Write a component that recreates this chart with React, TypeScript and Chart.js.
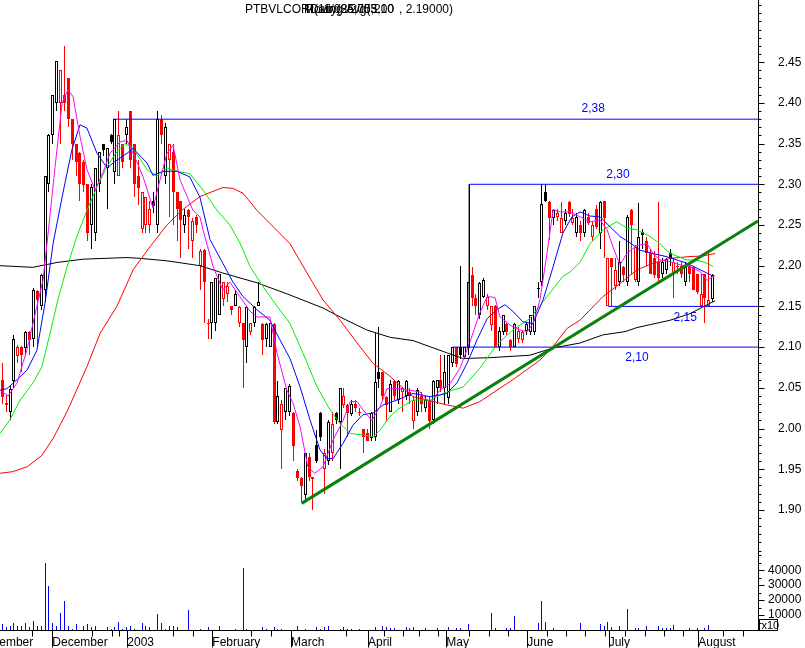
import React, { useEffect, useRef } from 'react';
import { Chart, registerables } from 'chart.js';

Chart.register(...registerables);

const FONT = '"Liberation Sans", Arial, sans-serif';

// ---- daily candles (trading-day index 0..183) ----
const OPEN = [
  2.059, 2.031, 2.020, 2.058, 2.089, 2.100, 2.099, 2.118, 2.110, 2.169,
  2.150, 2.170, 2.300, 2.360, 2.400, 2.400, 2.410, 2.430, 2.380, 2.350,
  2.338, 2.328, 2.300, 2.250, 2.240, 2.300, 2.349, 2.320, 2.360, 2.315,
  2.310, 2.350, 2.360, 2.390, 2.350, 2.310, 2.245, 2.250, 2.250, 2.280,
  2.250, 2.380, 2.310, 2.330, 2.340, 2.290, 2.280, 2.250, 2.268, 2.230,
  2.260, 2.200, 2.219, 2.130, 2.130, 2.130, 2.140, 2.159, 2.165, 2.150,
  2.150, 2.130, 2.129, 2.100, 2.118, 2.130, 2.150, 2.128, 2.110, 2.100,
  2.128, 2.008, 1.998, 2.020, 2.020, 2.019, 1.948, 1.939, 1.918, 1.965,
  1.940, 1.980, 2.019, 1.950, 1.960, 1.970, 2.019, 2.008, 2.029, 2.029,
  2.018, 2.030, 2.020, 2.000, 1.995, 1.988, 1.990, 2.070, 2.069, 2.039,
  2.020, 2.058, 2.035, 2.045, 2.040, 2.045, 2.009, 2.020, 2.040, 2.025,
  2.035, 2.010, 2.050, 2.059, 2.050, 2.037, 2.080, 2.100, 2.100, 2.088,
  2.099, 2.189, 2.160, 2.140, 2.162, 2.150, 2.127, 2.150, 2.100, 2.119,
  2.128, 2.109, 2.100, 2.110, 2.109, 2.120, 2.118, 2.118, 2.171, 2.180,
  2.290, 2.278, 2.258, 2.260, 2.240, 2.255, 2.278, 2.252, 2.240, 2.250,
  2.240, 2.260, 2.235, 2.270, 2.240, 2.279, 2.150, 2.209, 2.175, 2.180,
  2.198, 2.180, 2.268, 2.183, 2.180, 2.242, 2.230, 2.215, 2.210, 2.205,
  2.190, 2.195, 2.215, 2.190, 2.200, 2.200, 2.180, 2.200, 2.199, 2.190,
  2.150, 2.190, 2.150, 2.159,
];
const HIGH = [
  2.080, 2.041, 2.052, 2.115, 2.102, 2.101, 2.120, 2.120, 2.172, 2.170,
  2.190, 2.310, 2.362, 2.410, 2.452, 2.440, 2.470, 2.430, 2.380, 2.350,
  2.340, 2.330, 2.300, 2.300, 2.320, 2.340, 2.350, 2.345, 2.362, 2.380,
  2.390, 2.350, 2.380, 2.390, 2.350, 2.330, 2.290, 2.285, 2.280, 2.290,
  2.390, 2.385, 2.375, 2.350, 2.350, 2.290, 2.280, 2.270, 2.270, 2.258,
  2.262, 2.220, 2.220, 2.135, 2.180, 2.185, 2.190, 2.180, 2.180, 2.150,
  2.170, 2.150, 2.130, 2.150, 2.130, 2.150, 2.180, 2.130, 2.130, 2.130,
  2.130, 2.058, 2.035, 2.050, 2.055, 2.020, 1.950, 1.940, 1.970, 1.970,
  1.940, 1.998, 2.020, 1.975, 2.010, 2.020, 2.020, 2.050, 2.050, 2.030,
  2.035, 2.035, 2.025, 2.000, 2.000, 2.020, 2.117, 2.125, 2.070, 2.040,
  2.060, 2.060, 2.060, 2.050, 2.060, 2.050, 2.040, 2.050, 2.045, 2.040,
  2.040, 2.060, 2.060, 2.090, 2.090, 2.090, 2.100, 2.100, 2.200, 2.100,
  2.180, 2.199, 2.165, 2.180, 2.185, 2.165, 2.150, 2.152, 2.125, 2.140,
  2.130, 2.110, 2.130, 2.125, 2.120, 2.130, 2.140, 2.150, 2.180, 2.300,
  2.300, 2.280, 2.270, 2.270, 2.278, 2.270, 2.280, 2.270, 2.265, 2.255,
  2.270, 2.265, 2.255, 2.275, 2.280, 2.280, 2.210, 2.210, 2.210, 2.230,
  2.200, 2.262, 2.270, 2.225, 2.277, 2.245, 2.235, 2.220, 2.218, 2.278,
  2.210, 2.210, 2.220, 2.210, 2.205, 2.205, 2.205, 2.205, 2.200, 2.190,
  2.190, 2.190, 2.217, 2.190,
];
const LOW = [
  2.030, 2.020, 2.011, 2.050, 2.080, 2.070, 2.090, 2.090, 2.100, 2.100,
  2.145, 2.155, 2.290, 2.350, 2.390, 2.350, 2.390, 2.370, 2.330, 2.310,
  2.280, 2.290, 2.230, 2.220, 2.230, 2.290, 2.335, 2.270, 2.350, 2.300,
  2.310, 2.320, 2.350, 2.320, 2.285, 2.275, 2.240, 2.240, 2.240, 2.265,
  2.240, 2.350, 2.300, 2.260, 2.250, 2.230, 2.210, 2.240, 2.220, 2.210,
  2.240, 2.170, 2.130, 2.110, 2.110, 2.120, 2.140, 2.150, 2.155, 2.140,
  2.150, 2.125, 2.050, 2.080, 2.115, 2.125, 2.150, 2.090, 2.100, 2.100,
  2.005, 2.005, 1.950, 2.010, 2.015, 1.960, 1.935, 1.908, 1.908, 1.935,
  1.900, 1.958, 1.985, 1.920, 1.955, 1.960, 2.005, 1.950, 2.025, 1.990,
  2.015, 2.020, 2.015, 1.970, 1.985, 1.985, 1.985, 2.050, 2.035, 2.009,
  2.020, 2.035, 2.030, 2.020, 2.035, 2.030, 2.000, 2.015, 2.020, 2.020,
  2.000, 2.005, 2.030, 2.045, 2.030, 2.030, 2.075, 2.075, 2.085, 2.085,
  2.090, 2.150, 2.140, 2.135, 2.160, 2.145, 2.120, 2.100, 2.095, 2.115,
  2.115, 2.095, 2.100, 2.105, 2.105, 2.115, 2.115, 2.115, 2.160, 2.175,
  2.278, 2.232, 2.250, 2.255, 2.240, 2.250, 2.260, 2.250, 2.235, 2.230,
  2.235, 2.250, 2.230, 2.245, 2.220, 2.210, 2.150, 2.150, 2.170, 2.175,
  2.180, 2.175, 2.190, 2.180, 2.175, 2.220, 2.200, 2.190, 2.185, 2.180,
  2.185, 2.190, 2.200, 2.160, 2.190, 2.185, 2.175, 2.180, 2.170, 2.165,
  2.150, 2.129, 2.150, 2.155,
];
const CLOSE = [
  2.039, 2.029, 2.048, 2.110, 2.100, 2.090, 2.118, 2.109, 2.170, 2.158,
  2.189, 2.310, 2.361, 2.410, 2.451, 2.440, 2.400, 2.380, 2.350, 2.328,
  2.300, 2.299, 2.240, 2.297, 2.320, 2.340, 2.342, 2.344, 2.352, 2.380,
  2.360, 2.328, 2.370, 2.330, 2.300, 2.295, 2.290, 2.285, 2.270, 2.273,
  2.380, 2.360, 2.370, 2.350, 2.290, 2.270, 2.256, 2.262, 2.260, 2.255,
  2.250, 2.218, 2.180, 2.128, 2.180, 2.185, 2.190, 2.180, 2.175, 2.145,
  2.165, 2.149, 2.109, 2.149, 2.129, 2.149, 2.155, 2.109, 2.128, 2.130,
  2.008, 2.040, 2.030, 2.050, 2.052, 1.979, 1.939, 1.929, 1.970, 1.940,
  1.938, 1.960, 1.990, 1.970, 2.008, 2.005, 2.010, 2.050, 2.040, 2.019,
  2.030, 2.025, 2.019, 1.990, 1.985, 2.019, 2.057, 2.061, 2.040, 2.029,
  2.055, 2.040, 2.058, 2.050, 2.058, 2.040, 2.035, 2.047, 2.030, 2.035,
  2.009, 2.058, 2.060, 2.050, 2.070, 2.090, 2.100, 2.079, 2.090, 2.100,
  2.180, 2.160, 2.150, 2.179, 2.182, 2.162, 2.150, 2.100, 2.120, 2.140,
  2.119, 2.100, 2.128, 2.120, 2.118, 2.128, 2.140, 2.150, 2.172, 2.276,
  2.280, 2.258, 2.268, 2.265, 2.258, 2.265, 2.263, 2.258, 2.260, 2.240,
  2.268, 2.252, 2.250, 2.248, 2.278, 2.258, 2.209, 2.199, 2.195, 2.205,
  2.189, 2.260, 2.250, 2.223, 2.235, 2.238, 2.215, 2.190, 2.188, 2.185,
  2.205, 2.208, 2.210, 2.205, 2.198, 2.190, 2.199, 2.190, 2.170, 2.168,
  2.165, 2.160, 2.158, 2.189,
];
const VOLUME = [
  3700, 1900, 3000, 5000, 3000, 2400, 4400, 1800, 5800, 3000,
  3000, 44500, 29100, 5000, 3000, 11200, 19700, 2400, 1000, 3700,
  0, 3000, 3700, 1800, 3000, 0, 0, 1800, 1000, 1800,
  5600, 1000, 1800, 3000, 1000, 0, 4400, 3000, 1800, 0,
  10400, 4400, 1000, 2400, 2400, 1800, 0, 0, 13700, 0,
  0, 1000, 0, 1800, 0, 0, 3000, 0, 0, 0,
  1000, 0, 41800, 1000, 0, 0, 0, 1800, 1000, 0,
  1800, 1000, 1000, 0, 0, 0, 2400, 0, 1000, 0,
  0, 1800, 1000, 1800, 2400, 0, 0, 1000, 1800, 1000,
  1000, 0, 1000, 0, 0, 0, 1800, 0, 2400, 1800,
  1100, 1100, 0, 0, 1800, 1200, 1800, 0, 0, 1200,
  0, 0, 1200, 0, 0, 1800, 0, 1200, 1200, 0,
  3900, 0, 0, 0, 0, 0, 11200, 1200, 0, 0,
  1200, 1200, 9200, 0, 0, 0, 0, 0, 4500, 19300,
  5200, 0, 1200, 0, 0, 0, 0, 0, 0, 4500,
  0, 0, 0, 0, 3900, 2500, 5200, 1800, 0, 2500,
  0, 13900, 0, 1200, 1200, 0, 2500, 0, 0, 2500,
  1200, 1200, 1200, 3200, 0, 0, 0, 1200, 0, 1200,
  0, 1200, 3200, 0,
];

// ---- moving averages (day index, value) ----
const MA_MAGENTA_X = [-0.6, 1.5, 3.8, 6.4, 8.9, 10.5, 11.8, 13.6, 15.4, 16.9, 18.2, 20.0, 21.8, 23.9, 25.9, 27.7, 30.3, 32.1, 33.7, 36.2, 38.8, 40.6, 42.4, 44.0, 45.8, 47.6, 49.1, 50.9, 51.7, 54.3, 56.8, 58.6, 61.2, 63.8, 65.6, 68.9, 70.8, 73.3, 74.9, 76.7, 78.7, 80.5, 82.6, 85.2, 87.8, 89.6, 91.4, 92.9, 95.2, 97.3, 99.1, 102.4, 105.0, 107.6, 110.2, 112.7, 115.3, 117.9, 120.5, 123.0, 124.9, 126.9, 128.2, 130.8, 133.3, 135.2, 136.7, 138.5, 140.3, 141.9, 143.7, 146.2, 148.8, 151.4, 154.0, 155.8, 157.3, 159.1, 160.9, 163.5, 166.1, 167.6, 169.4, 172.0, 174.6, 177.1, 179.7, 181.5, 183.6];
const MA_MAGENTA_Y = [2.047, 2.040, 2.056, 2.098, 2.150, 2.183, 2.240, 2.322, 2.400, 2.416, 2.408, 2.359, 2.318, 2.293, 2.314, 2.338, 2.352, 2.354, 2.338, 2.310, 2.271, 2.305, 2.338, 2.348, 2.305, 2.285, 2.268, 2.260, 2.244, 2.199, 2.170, 2.180, 2.162, 2.144, 2.137, 2.137, 2.092, 2.047, 2.031, 2.002, 1.953, 1.945, 1.953, 1.986, 2.010, 2.033, 2.033, 2.023, 2.010, 2.027, 2.049, 2.049, 2.047, 2.045, 2.031, 2.047, 2.055, 2.074, 2.107, 2.142, 2.162, 2.161, 2.137, 2.127, 2.121, 2.119, 2.129, 2.158, 2.215, 2.269, 2.266, 2.266, 2.260, 2.254, 2.256, 2.244, 2.223, 2.201, 2.215, 2.225, 2.227, 2.215, 2.207, 2.205, 2.201, 2.199, 2.193, 2.182, 2.188];

const MA_BLUE_X = [-0.6, 1.2, 3.8, 6.4, 8.9, 11.0, 13.1, 15.6, 17.9, 20.0, 21.8, 24.4, 27.0, 29.0, 32.1, 33.7, 37.3, 38.8, 41.4, 45.0, 48.3, 50.9, 53.5, 56.8, 59.4, 62.0, 65.6, 68.9, 71.5, 74.1, 76.7, 79.3, 81.8, 83.6, 85.2, 87.8, 90.3, 92.9, 95.5, 98.1, 101.7, 105.8, 110.2, 114.5, 117.1, 119.7, 122.3, 124.9, 127.4, 129.5, 131.5, 134.1, 136.7, 139.3, 141.9, 144.4, 146.7, 148.8, 151.4, 154.0, 156.5, 159.1, 161.7, 164.3, 167.6, 171.2, 173.8, 176.4, 178.9, 181.5, 183.1];
const MA_BLUE_Y = [2.047, 2.049, 2.060, 2.072, 2.096, 2.154, 2.228, 2.289, 2.342, 2.373, 2.369, 2.338, 2.320, 2.328, 2.338, 2.344, 2.326, 2.311, 2.316, 2.316, 2.309, 2.284, 2.232, 2.203, 2.180, 2.162, 2.146, 2.133, 2.109, 2.086, 2.051, 2.010, 1.974, 1.963, 1.963, 1.982, 2.004, 2.017, 2.019, 2.029, 2.035, 2.043, 2.039, 2.043, 2.056, 2.080, 2.109, 2.135, 2.146, 2.152, 2.144, 2.131, 2.129, 2.158, 2.199, 2.240, 2.260, 2.266, 2.261, 2.260, 2.248, 2.236, 2.228, 2.219, 2.215, 2.211, 2.207, 2.203, 2.197, 2.191, 2.187];

const MA_GREEN_X = [-0.6, 2.0, 4.6, 7.9, 10.2, 12.3, 14.3, 16.7, 19.2, 21.8, 24.4, 27.0, 29.5, 31.6, 33.7, 37.3, 39.8, 42.4, 45.0, 48.3, 51.7, 55.3, 58.6, 61.2, 63.8, 67.2, 70.8, 74.1, 77.5, 81.1, 84.4, 87.0, 89.6, 92.9, 95.5, 97.3, 99.9, 101.7, 105.8, 110.2, 114.5, 118.7, 123.0, 127.4, 131.5, 135.9, 140.3, 144.4, 146.2, 148.8, 151.4, 154.7, 158.3, 160.9, 163.5, 166.8, 169.4, 172.0, 176.4, 178.9, 181.5, 183.1];
const MA_GREEN_Y = [1.994, 2.011, 2.035, 2.056, 2.076, 2.117, 2.158, 2.199, 2.236, 2.268, 2.297, 2.322, 2.340, 2.350, 2.344, 2.318, 2.310, 2.320, 2.316, 2.313, 2.293, 2.268, 2.250, 2.228, 2.199, 2.174, 2.150, 2.129, 2.092, 2.051, 2.023, 2.006, 1.994, 1.992, 1.990, 1.998, 2.015, 2.023, 2.035, 2.035, 2.045, 2.051, 2.074, 2.103, 2.121, 2.135, 2.162, 2.187, 2.192, 2.204, 2.227, 2.244, 2.254, 2.246, 2.244, 2.236, 2.227, 2.215, 2.207, 2.207, 2.203, 2.199];

const MA_RED_X = [-0.6, 2.7, 6.4, 10.2, 13.1, 16.7, 21.8, 25.2, 29.5, 33.7, 38.0, 42.4, 46.5, 50.9, 56.8, 59.4, 62.0, 65.6, 74.1, 78.5, 82.6, 87.0, 91.4, 95.5, 99.9, 101.7, 105.8, 110.2, 114.5, 118.7, 123.0, 131.5, 138.5, 141.9, 145.5, 148.8, 154.7, 159.1, 163.5, 167.6, 172.0, 176.4, 180.5, 183.6];
const MA_RED_Y = [1.945, 1.947, 1.953, 1.967, 1.988, 2.021, 2.076, 2.117, 2.150, 2.195, 2.223, 2.250, 2.269, 2.285, 2.296, 2.295, 2.289, 2.268, 2.227, 2.191, 2.158, 2.133, 2.105, 2.080, 2.064, 2.056, 2.039, 2.034, 2.029, 2.025, 2.033, 2.060, 2.084, 2.101, 2.123, 2.133, 2.162, 2.178, 2.195, 2.203, 2.209, 2.211, 2.212, 2.215];

const MA_BLACK_X = [-0.6, 7.9, 14.1, 20.8, 32.1, 35.5, 42.4, 50.9, 56.8, 65.6, 74.1, 82.6, 87.0, 93.9, 99.9, 105.8, 114.5, 118.7, 125.6, 135.9, 141.9, 148.8, 154.7, 160.4, 163.5, 172.0, 177.1, 183.6];
const MA_BLACK_Y = [2.200, 2.198, 2.204, 2.208, 2.210, 2.209, 2.206, 2.200, 2.191, 2.179, 2.164, 2.148, 2.137, 2.121, 2.112, 2.108, 2.093, 2.086, 2.087, 2.090, 2.099, 2.105, 2.115, 2.119, 2.124, 2.133, 2.141, 2.157];

// ---- drawn annotations ----
const LEVELS = [2.38, 2.30, 2.15, 2.10];
const LEVEL_START = [28.6, 120.3, 156.1, 116.0];
const LEVEL_TEXT = ['2,38', '2,30', '2,15', '2,10'];
const LEVEL_TEXT_X = [152.2, 158.6, 175.9, 163.5];
const LEVEL_TEXT_ABOVE = [true, true, false, false];
const BOX_X = 120.3;
const BOX_TOP = 2.30;
const BOX_BOTTOM = 2.10;
const TREND_X = [77.1, 194.66];
const TREND_Y = [1.908, 2.255];

// ---- axes ----
const MONTH_TICKS = [-6.3, 12.87, 32.19, 54.09, 74.37, 94.2, 114.37, 135.23, 156.2, 179.29];
const MONTH_LABELS = ['November', 'December', '2003', 'February', 'March', 'April', 'May', 'June', 'July', 'August'];
const WEEK_TICKS = [7.72, 23.18, 28.17, 30.13, 43.89, 49.19, 64.06, 69.13, 88.45, 98.19, 103.13, 107.26, 112.23, 120.29, 125.29, 130.26, 140.23, 145.2, 150.17, 155.33, 160.48, 165.47, 170.45, 175.42, 185.72, 190.72];
const PRICE_LABEL_MIN = 1.90;
const PRICE_LABEL_MAX = 2.45;
const VOLUME_LABELS = [10000, 20000, 30000, 40000];

const X_MIN = -0.6;
const X_MAX = 194.66;
const P_MIN = 1.8446;
const P_MAX = 2.5264;
const V_MAX = 50170;

const pts = (xs: number[], ys: number[]) => xs.map((x, k) => ({ x, y: ys[k] }));

const resetPadding = (s: any) => {
  s.paddingLeft = 0;
  s.paddingRight = 0;
  s.paddingTop = 0;
  s.paddingBottom = 0;
};

// snap bar elements to whole device pixels so candles render crisp like the original
const snapBars = {
  id: 'snapBars',
  beforeDatasetsDraw(chart: any) {
    chart.getSortedVisibleDatasetMetas().forEach((meta: any) => {
      if (meta.type !== 'bar') return;
      meta.data.forEach((el: any) => {
        el.x = Math.floor(el.x) + 0.5;
        el.y = Math.round(el.y);
        el.base = Math.round(el.base);
        if (Math.abs(el.y - el.base) < 1) el.y = el.base - 1;
      });
    });
  },
};

const decor = {
  id: 'decor',
  afterDraw(chart: any) {
    const { ctx, scales } = chart;
    const xs = scales.x;
    const ys = scales.y;
    const yv = scales.yv;
    ctx.save();
    ctx.strokeStyle = '#000';
    ctx.lineWidth = 1;
    ctx.beginPath();
    const ax = Math.round(xs.top) + 0.5;
    MONTH_TICKS.forEach((v) => {
      const px = Math.round(xs.getPixelForValue(v)) + 0.5;
      if (px > 0) {
        ctx.moveTo(px, ax);
        ctx.lineTo(px, ax + 17);
      }
    });
    WEEK_TICKS.forEach((v) => {
      const px = Math.round(xs.getPixelForValue(v)) + 0.5;
      ctx.moveTo(px, ax);
      ctx.lineTo(px, ax + 6);
    });
    const lx = Math.round(ys.left) + 0.5;
    [ys, yv].forEach((s: any) => {
      s.ticks.forEach((t: any) => {
        const py = Math.round(s.getPixelForValue(t.value)) + 0.5;
        const len = t.label ? 6 : 3;
        ctx.moveTo(lx, py);
        ctx.lineTo(lx + len, py);
      });
    });
    ctx.stroke();

    // title (overlapping strings, as in the original)
    ctx.fillStyle = '#000';
    ctx.font = `12px ${FONT}`;
    ctx.textBaseline = 'middle';
    ctx.textAlign = 'left';
    ctx.fillText('PTBVLCOR', 245, 10);
    ctx.fillText('Moving Avg(5,10', 304, 10);
    ctx.fillText('P(11/08/2003', 306, 10);
    ctx.fillText('Daily(25,75,200', 310, 10);
    ctx.fillText(', 2.19000)', 399, 10);

    // level labels
    ctx.fillStyle = '#0000ff';
    ctx.textAlign = 'center';
    LEVELS.forEach((lv, k) => {
      const px = xs.getPixelForValue(LEVEL_TEXT_X[k]);
      const py = ys.getPixelForValue(lv) + (LEVEL_TEXT_ABOVE[k] ? -10 : 11);
      ctx.fillText(LEVEL_TEXT[k], px, py);
    });

    // x10 multiplier box
    const bx = Math.round(yv.left) + 1.5;
    const by = Math.round(yv.bottom) - 10.5;
    ctx.strokeStyle = '#000';
    ctx.strokeRect(bx, by, 18, 11);
    ctx.fillStyle = '#000';
    ctx.font = `11px ${FONT}`;
    ctx.textAlign = 'left';
    ctx.fillText('x10', bx + 2, by + 6);
    ctx.restore();
  },
};

export default function App() {
  const ref = useRef<HTMLCanvasElement>(null);

  useEffect(() => {
    const canvas = ref.current;
    if (!canvas) return;
    Chart.defaults.font.family = FONT;

    const color = CLOSE.map((c, i) =>
      (i === 0 ? c >= OPEN[i] : c >= CLOSE[i - 1]) ? '#000000' : '#ff0000'
    );
    const fill = CLOSE.map((c, i) => (c < OPEN[i] ? color[i] : '#ffffff'));

    const barCommon = {
      type: 'bar',
      xAxisID: 'x',
      stack: 'g',
      inflateAmount: 0,
      borderSkipped: false,
    };

    const lineCommon = {
      type: 'line',
      xAxisID: 'x',
      yAxisID: 'y',
      pointRadius: 0,
      borderWidth: 1,
      tension: 0,
      fill: false,
    };

    const datasets: any[] = [
      {
        ...barCommon,
        label: 'volume',
        yAxisID: 'yv',
        data: VOLUME.map((v, i) => ({ x: i, y: v })).filter((d) => d.y > 0),
        backgroundColor: '#0000ff',
        borderWidth: 0,
        barThickness: 1,
        order: 30,
      },
      {
        ...barCommon,
        label: 'range',
        yAxisID: 'y',
        data: LOW.map((l, i) => ({ x: i, y: [l, HIGH[i]] })),
        backgroundColor: color,
        borderWidth: 0,
        barThickness: 1,
        order: 29,
      },
      {
        ...barCommon,
        label: 'body',
        yAxisID: 'y',
        data: OPEN.map((o, i) => ({ x: i, y: [o, CLOSE[i]] })),
        backgroundColor: fill,
        borderColor: color,
        borderWidth: 1,
        barThickness: 3,
        minBarLength: 1,
        order: 28,
      },
      { ...lineCommon, label: 'MA black', data: pts(MA_BLACK_X, MA_BLACK_Y), borderColor: '#000000', order: 10 },
      { ...lineCommon, label: 'MA red', data: pts(MA_RED_X, MA_RED_Y), borderColor: '#ff0000', order: 9 },
      { ...lineCommon, label: 'MA green', data: pts(MA_GREEN_X, MA_GREEN_Y), borderColor: '#00ee00', order: 8 },
      { ...lineCommon, label: 'MA blue', data: pts(MA_BLUE_X, MA_BLUE_Y), borderColor: '#0000ff', order: 7 },
      { ...lineCommon, label: 'MA magenta', data: pts(MA_MAGENTA_X, MA_MAGENTA_Y), borderColor: '#ff00ff', order: 6 },
      ...LEVELS.map((lv, k) => ({
        ...lineCommon,
        label: LEVEL_TEXT[k],
        data: [{ x: LEVEL_START[k], y: lv }, { x: X_MAX, y: lv }],
        borderColor: '#0000ff',
        order: 4,
      })),
      {
        ...lineCommon,
        label: 'box',
        data: [{ x: BOX_X, y: BOX_TOP }, { x: BOX_X, y: BOX_BOTTOM }],
        borderColor: '#000000',
        order: 4,
      },
      {
        ...lineCommon,
        label: 'trend',
        data: pts(TREND_X, TREND_Y),
        borderColor: '#0a820a',
        borderWidth: 3,
        order: 1,
      },
    ];

    const axisFont = { family: FONT, size: 12 };

    const chart = new Chart(canvas, {
      type: 'bar',
      data: { datasets },
      options: {
        animation: false,
        responsive: false,
        maintainAspectRatio: false,
        devicePixelRatio: 1,
        events: [],
        layout: { padding: 0 },
        plugins: {
          legend: { display: false },
          tooltip: { enabled: false },
          title: { display: false },
        },
        scales: {
          x: {
            type: 'linear',
            position: 'bottom',
            min: X_MIN,
            max: X_MAX,
            offset: false,
            grid: { display: false, drawTicks: false },
            border: { display: true, color: '#000', width: 1 },
            afterBuildTicks: (s: any) => {
              s.ticks = MONTH_TICKS.map((v) => ({ value: v }));
            },
            afterFit: (s: any) => {
              s.height = 18;
              resetPadding(s);
            },
            ticks: {
              autoSkip: false,
              maxRotation: 0,
              minRotation: 0,
              align: 'start',
              padding: 5,
              color: '#000',
              font: axisFont,
              callback: (_v: any, idx: number) => MONTH_LABELS[idx],
            },
          },
          y: {
            type: 'linear',
            position: 'right',
            stack: 'r',
            stackWeight: 555,
            weight: 0,
            stacked: false,
            beginAtZero: false,
            min: P_MIN,
            max: P_MAX,
            grid: { display: false, drawTicks: false },
            border: { display: true, color: '#000', width: 1 },
            afterBuildTicks: (s: any) => {
              const t: any[] = [];
              for (let k = Math.ceil(P_MIN * 100); k <= Math.floor(P_MAX * 100); k++) t.push({ value: k / 100 });
              s.ticks = t;
            },
            afterFit: (s: any) => {
              s.width = 47;
              resetPadding(s);
            },
            ticks: {
              autoSkip: false,
              padding: 20,
              color: '#000',
              font: axisFont,
              callback: (v: any) => {
                const k = Math.round(Number(v) * 100);
                return k % 5 === 0 && k >= Math.round(PRICE_LABEL_MIN * 100) && k <= Math.round(PRICE_LABEL_MAX * 100)
                  ? (k / 100).toFixed(2)
                  : '';
              },
            },
          },
          yv: {
            type: 'linear',
            position: 'right',
            stack: 'r',
            stackWeight: 75,
            weight: 1,
            stacked: false,
            beginAtZero: true,
            min: 0,
            max: V_MAX,
            grid: { display: false, drawTicks: false },
            border: { display: true, color: '#000', width: 1 },
            afterBuildTicks: (s: any) => {
              const t: any[] = [];
              for (let v = 0; v <= V_MAX; v += 5000) t.push({ value: v });
              s.ticks = t;
            },
            afterFit: (s: any) => {
              s.width = 47;
              resetPadding(s);
            },
            ticks: {
              autoSkip: false,
              padding: 10,
              color: '#000',
              font: axisFont,
              callback: (v: any) => (VOLUME_LABELS.includes(Number(v)) ? String(v) : ''),
            },
          },
        },
      } as any,
      plugins: [snapBars, decor],
    } as any);

    return () => chart.destroy();
  }, []);

  return (
    <canvas
      ref={ref}
      width={805}
      height={648}
      style={{ position: 'fixed', left: 0, top: 0, width: 805, height: 648, background: '#ffffff' }}
    />
  );
}
